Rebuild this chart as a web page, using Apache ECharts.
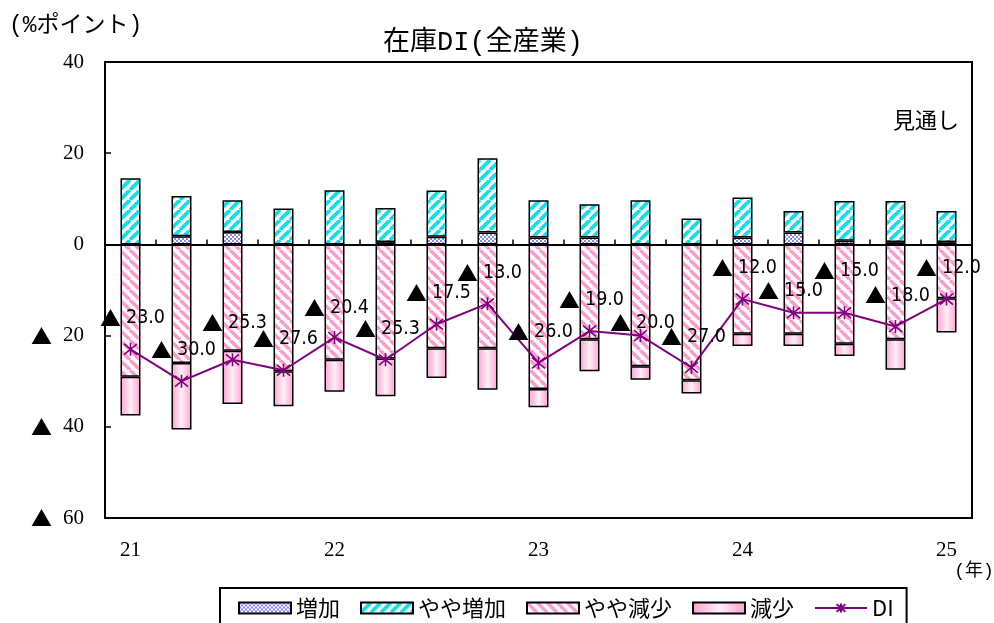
<!DOCTYPE html>
<html>
<head>
<meta charset="utf-8">
<script src="https://cdn.jsdelivr.net/npm/echarts@6/dist/echarts.min.js"></script>
<style>
  html, body { margin: 0; padding: 0; background: #ffffff; }
  #chart { width: 994px; height: 623px; }
</style>
</head>
<body>
<div id="chart"></div>
<script>
// Survey periods (quarterly, 2021 to the 2025 outlook)
const periods = ['21-1', '21-2', '21-3', '21-4', '22-1', '22-2', '22-3', '22-4',
                 '23-1', '23-2', '23-3', '23-4', '24-1', '24-2', '24-3', '24-4', '25-1'];
const yearTicks = ['21', '22', '23', '24', '25'];

// Shares of respondents (% points); decreases are stored as negatives
const zoukaVals      = [0, 1.8, 2.7, 0, 0, 0.5, 1.7, 2.6, 1.5, 1.5, 0, 0, 1.5, 2.6, 0.8, 0.5, 0.5];
const yayaZoukaVals  = [14.5, 8.8, 7.0, 7.9, 11.9, 7.5, 10.1, 16.3, 8.2, 7.3, 9.7, 5.7, 8.8, 4.7, 8.7, 9.0, 6.8];
const yayaGenshoVals = [-29.0, -26.0, -23.3, -27.8, -25.3, -25.0, -22.8, -22.8, -31.7, -20.8, -26.7, -29.8, -19.6, -19.6, -21.8, -20.8, -11.8];
const genshoVals     = [-8.5, -14.6, -11.7, -7.7, -7.0, -8.3, -6.5, -9.1, -4.0, -7.0, -3.0, -2.9, -2.7, -2.7, -2.7, -6.7, -7.5];
const diVals         = [-23.0, -30.0, -25.3, -27.6, -20.4, -25.3, -17.5, -13.0, -26.0, -19.0, -20.0, -27.0, -12.0, -15.0, -15.0, -18.0, -12.0];

const seriesNames = ['増加', 'やや増加', 'やや減少', '減少', 'DI'];

// ---- fill patterns ----
function makeCanvas(w, h) {
  const c = document.createElement('canvas');
  c.width = w; c.height = h;
  return c;
}
function checkerTile(color) {
  const c = makeCanvas(4, 4);
  const g = c.getContext('2d');
  g.fillStyle = '#ffffff'; g.fillRect(0, 0, 4, 4);
  g.fillStyle = color;
  g.fillRect(0, 0, 2, 2);
  g.fillRect(2, 2, 2, 2);
  return c;
}
function stripeTile(color, rising, width) {
  const s = 10;
  const c = makeCanvas(s, s);
  const g = c.getContext('2d');
  g.fillStyle = '#ffffff'; g.fillRect(0, 0, s, s);
  g.strokeStyle = color;
  g.lineWidth = width;
  g.beginPath();
  for (let k = -1; k <= 1; k++) {
    if (rising) { g.moveTo(k * s, s); g.lineTo(k * s + s, 0); }
    else { g.moveTo(k * s, 0); g.lineTo(k * s + s, s); }
  }
  g.stroke();
  return c;
}
const fillZouka = { image: checkerTile('#8888f6'), repeat: 'repeat' };
const fillYayaZouka = { image: stripeTile('#14dfe8', true, 3.8), repeat: 'repeat' };
const fillYayaGensho = { image: stripeTile('#ff9acb', false, 3.4), repeat: 'repeat' };
const fillGensho = new echarts.graphic.LinearGradient(0, 0, 1, 0, [
  { offset: 0, color: '#ff9fcf' },
  { offset: 0.5, color: '#fff0f7' },
  { offset: 1, color: '#ff9fcf' }
]);

const barBorder = { borderColor: '#000000', borderWidth: 1.5 };

// DI label placement tweaks (index -> [dx, dy])
const labelShift = { 2: [2, -37], 4: [2, -29], 10: [2, -13], 13: [-3, -22], 14: [2, -42] };

function triLabel(v, digits) {
  const n = Math.abs(v);
  const txt = digits ? n.toFixed(digits) : String(n);
  return v < 0 ? '{t|▲}{n|' + txt + '}' : '{n|' + txt + '}';
}

const chart = echarts.init(document.getElementById('chart'), null, { renderer: 'canvas' });

const barSeries = [
  { name: seriesNames[0], data: zoukaVals, fill: fillZouka },
  { name: seriesNames[1], data: yayaZoukaVals, fill: fillYayaZouka },
  { name: seriesNames[2], data: yayaGenshoVals, fill: fillYayaGensho },
  { name: seriesNames[3], data: genshoVals, fill: fillGensho }
].map(s => ({
  name: s.name,
  type: 'bar',
  stack: 'share',
  barWidth: 20,
  data: s.data,
  itemStyle: Object.assign({ color: s.fill }, barBorder),
  emphasis: { disabled: true },
  z: 2
}));

const diSeries = {
  name: seriesNames[4],
  type: 'line',
  data: diVals.map((v, i) => {
    const sh = labelShift[i] || [2, -31];
    return { value: v, label: { offset: sh } };
  }),
  symbol: 'path://M6,0L6,12M1,1L11,11M11,1L1,11',
  symbolSize: 13,
  itemStyle: { color: '#800080', borderColor: '#800080', borderWidth: 1.6 },
  lineStyle: { color: '#800080', width: 2 },
  emphasis: { disabled: true },
  z: 5,
  label: {
    show: true,
    position: 'inside',
    formatter: p => triLabel(p.value, 1),
    rich: {
      t: { fontFamily: "'Noto Sans CJK JP'", fontSize: 21, color: '#000', padding: [0, 5, 0, 0] },
      n: { fontFamily: "'DejaVu Sans Condensed', 'DejaVu Sans', sans-serif", fontSize: 19.5, color: '#000' }
    }
  }
};

const option = {
  animation: false,
  backgroundColor: '#ffffff',
  grid: {
    left: 105, right: 22, top: 62, bottom: 105,
    show: true, borderColor: '#000000', borderWidth: 2, backgroundColor: 'transparent'
  },
  xAxis: [
    {
      type: 'category',
      data: periods,
      boundaryGap: true,
      axisLine: { show: true, onZero: true, lineStyle: { color: '#000', width: 2 } },
      axisTick: { show: true, inside: true, length: 5, lineStyle: { color: '#000', width: 1.5 } },
      axisLabel: { show: false },
      z: 10
    },
    {
      type: 'category',
      data: periods,
      position: 'bottom',
      boundaryGap: true,
      axisLine: { show: false, onZero: false },
      axisTick: { show: false },
      axisLabel: {
        show: true,
        interval: 0,
        margin: 22,
        color: '#000',
        fontFamily: "'Liberation Serif', 'DejaVu Serif', serif",
        fontSize: 21,
        formatter: (val, idx) => (idx % 4 === 0 ? yearTicks[idx / 4] : '')
      }
    }
  ],
  yAxis: {
    type: 'value',
    min: -60, max: 40, interval: 20,
    axisLine: { show: true, lineStyle: { color: '#000', width: 2 } },
    axisTick: { show: true, inside: true, length: 6, lineStyle: { color: '#000', width: 1.5 } },
    splitLine: { show: false },
    axisLabel: {
      margin: 21,
      color: '#000',
      formatter: v => triLabel(v, 0),
      rich: {
        t: { fontFamily: "'Noto Sans CJK JP'", fontSize: 21, color: '#000', padding: [0, 11, 0, 0] },
        n: { fontFamily: "'Liberation Serif', 'DejaVu Serif', serif", fontSize: 21, color: '#000' }
      }
    }
  },
  legend: {
    data: seriesNames.map((n, i) => (i < 4 ? { name: n, icon: 'rect' } : { name: n })),
    left: 220, top: 588,
    orient: 'horizontal',
    itemWidth: 52, itemHeight: 11, itemGap: 20,
    padding: [9, 13, 14, 18],
    borderColor: '#000', borderWidth: 2,
    backgroundColor: '#fff',
    selectedMode: false,
    textStyle: { fontFamily: "'Noto Sans CJK JP', sans-serif", fontSize: 22, color: '#000' }
  },
  graphic: [
    {
      type: 'text', x: 483, y: 43,
      style: {
        text: '在庫DI(全産業)',
        font: "27px 'Liberation Mono', 'Noto Sans CJK JP'", fill: '#000',
        align: 'center', verticalAlign: 'middle'
      }
    },
    {
      type: 'text', x: 9, y: 26,
      style: {
        text: '(%ポイント)', font: "23px 'Liberation Mono', 'Noto Sans CJK JP'", fill: '#000',
        align: 'left', verticalAlign: 'middle'
      }
    },
    {
      type: 'text', x: 926, y: 120,
      style: {
        text: '見通し', font: "22px 'Noto Sans CJK JP'", fill: '#000',
        align: 'center', verticalAlign: 'middle'
      }
    },
    {
      type: 'text', x: 974, y: 571,
      style: {
        text: '(年)', font: "18px 'Liberation Mono', 'Noto Sans CJK JP'", fill: '#000',
        align: 'center', verticalAlign: 'middle'
      }
    }
  ],
  series: barSeries.concat([diSeries])
};

chart.setOption(option);
</script>
</body>
</html>
